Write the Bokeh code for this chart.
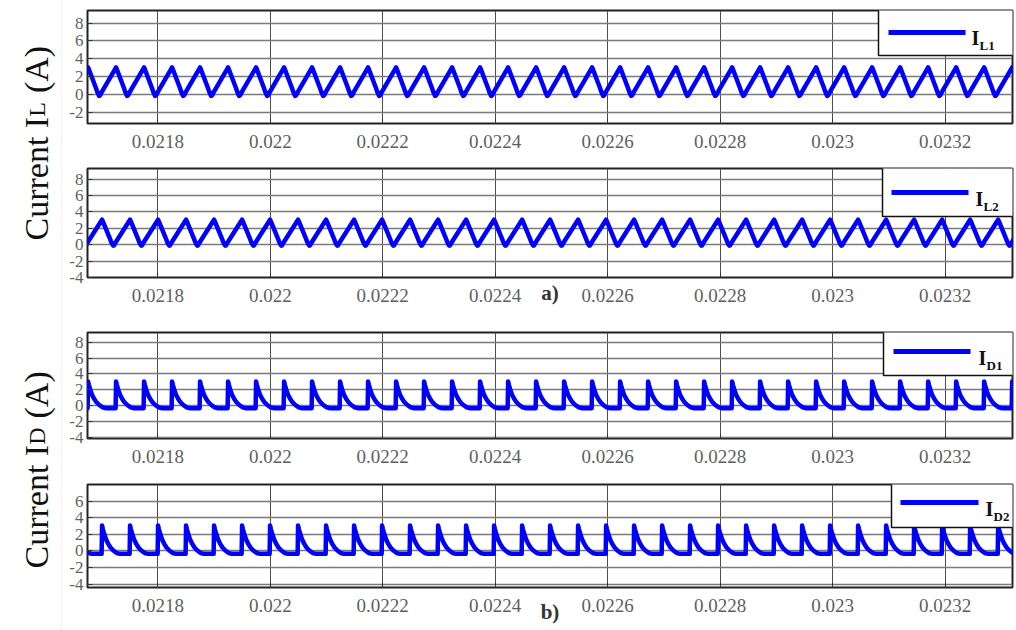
import math

from bokeh.embed import file_html
from bokeh.layouts import column, row
from bokeh.models import BoxAnnotation, FixedTicker, Label, Range1d, Span
from bokeh.plotting import figure
from bokeh.resources import INLINE

# ---------------------------------------------------------------- data ---
# time window shown on every panel (s) and its tick marks
x_start, x_end = 0.021675, 0.02332
x_ticks = [0.0218, 0.022, 0.0222, 0.0224, 0.0226, 0.0228, 0.023, 0.0232]
x_tick_labels = ["0.0218", "0.022", "0.0222", "0.0224", "0.0226",
                 "0.0228", "0.023", "0.0232"]

# switching instants of the two interleaved phases (microseconds):
# peak of the inductor current = start of the diode conduction pulse
phase1_us = [21626.2, 21676.0, 21725.8, 21775.6, 21825.4, 21875.2, 21925.0,
             21974.8, 22024.6, 22074.4, 22124.2, 22174.0, 22223.8, 22273.6,
             22323.4, 22373.2, 22423.0, 22472.8, 22522.6, 22572.4, 22622.2,
             22672.0, 22721.8, 22771.6, 22821.4, 22871.2, 22921.0, 22970.8,
             23020.6, 23070.4, 23120.2, 23170.0, 23219.8, 23269.6, 23319.4]
phase2_us = [21651.1, 21700.9, 21750.7, 21800.5, 21850.3, 21900.1, 21949.9,
             21999.7, 22049.5, 22099.3, 22149.1, 22198.9, 22248.7, 22298.5,
             22348.3, 22398.1, 22447.9, 22497.7, 22547.5, 22597.3, 22647.1,
             22696.9, 22746.7, 22796.5, 22846.3, 22896.1, 22945.9, 22995.7,
             23045.5, 23095.3, 23145.1, 23194.9, 23244.7, 23294.5, 23344.3]

# inductor current over one switching cycle, relative to its peak
il_shape_us = [-30.0, -29.0, -28.0, -27.0, -25.5, -1.2, 0.0, 1.2,
               14.0, 16.0, 17.5, 18.8]
il_shape_a = [-0.12, -0.10, -0.02, 0.10, 0.30, 2.92, 3.05, 2.88,
              0.75, 0.38, 0.15, 0.00]

# diode current over one switching cycle, relative to turn-off
id_shape_us = [-0.8, 0.0, 1.5, 4.0, 7.0, 11.0, 15.0, 20.0, 26.0, 32.0]
id1_shape_a = [-0.30, 3.05, 2.60, 2.00, 1.40, 0.85, 0.45, 0.10, -0.20, -0.30]
id2_shape_a = [-0.35, 3.05, 2.60, 2.00, 1.40, 0.85, 0.42, 0.06, -0.25, -0.35]

# vertical scales of the four panels
il1_range, il1_ticks = (-3.2, 9.4), [-2, 0, 2, 4, 6, 8]
il2_range, il2_ticks = (-4.0, 9.3), [-4, -2, 0, 2, 4, 6, 8]
id1_range, id1_ticks = (-4.1, 9.2), [-4, -2, 0, 2, 4, 6, 8]
id2_range, id2_ticks = (-4.4, 8.0), [-4, -2, 0, 2, 4, 6]

# --------------------------------------------------------------- style ---
FONT = "Liberation Serif"
BLUE = "#0000ff"
LABEL_GREY = "#5f5f5f"
TITLE_W = 62
PANEL_W = 1016 - TITLE_W


def waveform(instants_us, shape_us, shape_a):
    """Place one cycle of a waveform at every switching instant."""
    t, v = [], []
    for t0 in instants_us:
        for dt, a in zip(shape_us, shape_a):
            t.append((t0 + dt) * 1e-6)
            v.append(a)
    return t, v


def panel(height, top, bottom, y_range, y_ticks, t, v,
          caption=None, caption_standoff=0):
    p = figure(width=PANEL_W, height=height,
               x_range=Range1d(x_start, x_end), y_range=Range1d(*y_range),
               output_backend="svg", toolbar_location=None,
               min_border_left=25, min_border_right=4,
               min_border_top=top, min_border_bottom=bottom)
    p.background_fill_color = "white"
    p.border_fill_color = "white"
    p.outline_line_color = "#222222"
    p.outline_line_width = 2

    p.line(t, v, line_color=BLUE, line_width=4.5, line_join="round")

    xa = p.xaxis[0]
    xa.ticker = FixedTicker(ticks=x_ticks)
    xa.major_label_overrides = dict(zip(x_ticks, x_tick_labels))
    ya = p.yaxis[0]
    ya.ticker = FixedTicker(ticks=y_ticks)
    ya.major_label_overrides = {k: str(k) for k in y_ticks}
    for ax in (xa, ya):
        ax.axis_line_color = None
        ax.major_tick_in = 5
        ax.major_tick_out = 0
        ax.major_tick_line_color = "#333333"
        ax.minor_tick_line_color = None
        ax.major_label_text_font = FONT
        ax.major_label_text_color = LABEL_GREY
    xa.major_label_text_font_size = "19px"
    xa.major_label_standoff = 11
    ya.major_label_text_font_size = "17px"
    ya.major_label_standoff = 4

    # sub-figure caption, centred under the frame on the tick-label row
    if caption:
        xa.axis_label = caption
        xa.axis_label_standoff = caption_standoff
        xa.axis_label_text_font = FONT
        xa.axis_label_text_font_style = "bold"
        xa.axis_label_text_font_size = "21px"
        xa.axis_label_text_color = "#333333"

    p.xgrid.grid_line_color = "#4d4d4d"
    p.xgrid.grid_line_width = 1
    p.ygrid.grid_line_color = "#7a7a7a"
    p.ygrid.grid_line_width = 1.3
    return p


def legend(p, box, sample, text_x, base_y, sub):
    left, top, bottom = box
    p.add_layout(BoxAnnotation(
        left=left, right=left + 220, top=top, bottom=bottom,
        left_units="canvas", right_units="canvas",
        top_units="canvas", bottom_units="canvas",
        fill_color="white", fill_alpha=1.0,
        line_color="#111111", line_width=1.5, line_alpha=1.0))
    s_left, s_right, s_y = sample
    p.add_layout(BoxAnnotation(
        left=s_left, right=s_right, top=s_y - 2.5, bottom=s_y + 2.5,
        left_units="canvas", right_units="canvas",
        top_units="canvas", bottom_units="canvas",
        fill_color=BLUE, fill_alpha=1.0, line_color=None))
    p.add_layout(Label(x=text_x, y=base_y, x_units="canvas", y_units="canvas",
                       text="I", text_font=FONT, text_font_style="bold",
                       text_font_size="20px", text_color="#111111",
                       text_align="left", text_baseline="alphabetic"))
    p.add_layout(Label(x=text_x + 8, y=base_y + 8, x_units="canvas",
                       y_units="canvas", text=sub, text_font=FONT,
                       text_font_style="bold", text_font_size="13px",
                       text_color="#111111", text_align="left",
                       text_baseline="alphabetic"))


def title_fig(height, start_y, letter, letter_w):
    """Vertical axis title written as 'Current I' + small capital + '(A)'."""
    p = figure(width=TITLE_W, height=height,
               x_range=Range1d(0, TITLE_W), y_range=Range1d(0, height),
               x_axis_type=None, y_axis_type=None,
               output_backend="svg", toolbar_location=None, min_border=0)
    p.outline_line_color = None
    p.background_fill_color = "white"
    p.border_fill_color = "white"
    base_x = 36
    parts = [("Current I", "34px", 0.0),
             (letter, "24px", 123.7),
             ("(A)", "34px", 123.7 + letter_w + 9.0)]
    for text, size, offset in parts:
        p.add_layout(Label(x=base_x, y=start_y + offset, text=text,
                           angle=math.pi / 2, text_font=FONT,
                           text_font_size=size, text_color="#111111",
                           text_align="left", text_baseline="alphabetic"))
    p.add_layout(Span(location=TITLE_W - 0.5, dimension="height",
                      line_color="#e6e6e6", line_width=1))
    return p


# -------------------------------------------------------------- panels ---
t1, v1 = waveform(phase1_us, il_shape_us, il_shape_a)
t2, v2 = waveform(phase2_us, il_shape_us, il_shape_a)
t3, v3 = waveform(phase1_us, id_shape_us, id1_shape_a)
t4, v4 = waveform(phase2_us, id_shape_us, id2_shape_a)

p1 = panel(160, 10, 37, il1_range, il1_ticks, t1, v1)
p2 = panel(160, 8, 43, il2_range, il2_ticks, t2, v2,
           caption="a)", caption_standoff=-24)
p3 = panel(152, 12, 34, id1_range, id1_ticks, t3, v3)
p4 = panel(158, 12, 43, id2_range, id2_ticks, t4, v4,
           caption="b)", caption_standoff=-15)

legend(p1, (816, 8, 55), (826, 903, 32), 909, 37, "L1")
legend(p2, (820, 6, 56), (829, 906, 32), 913, 38, "L2")
legend(p3, (821, 6, 55), (831, 908, 31), 916, 37, "D1")
legend(p4, (829, 7, 55), (838, 916, 30), 923, 36, "D2")

title_il = title_fig(320, 80, "L", 14.7)
title_id = title_fig(310, 62, "D", 17.3)

page = row(column(title_il, title_id), column(p1, p2, p3, p4))

with open("out.html", "w") as f:
    f.write(file_html(page, INLINE))
